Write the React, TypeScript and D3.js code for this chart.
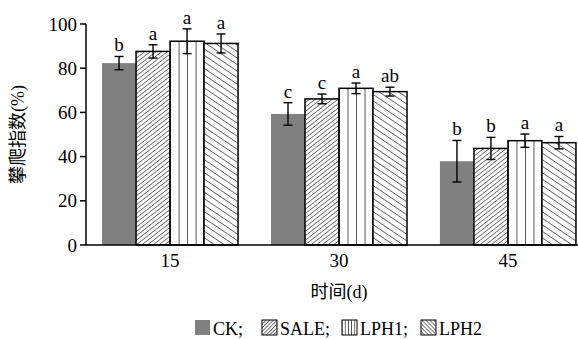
import React, { useEffect } from "react";
import { scaleBand, scaleLinear } from "d3";

// days
const days = ["15", "30", "45"];
const treatments = ["CK", "SALE", "LPH1", "LPH2"];
// climbing index (%) per day, per treatment
const means = [
  [82.3, 87.6, 92.2, 91.2],
  [59.3, 66.1, 70.9, 69.4],
  [37.9, 43.7, 47.2, 46.3],
];
const errors = [
  [3.0, 3.0, 5.6, 4.3],
  [5.1, 2.2, 2.4, 2.0],
  [9.4, 5.0, 3.0, 2.8],
];
const letters = [
  ["b", "a", "a", "a"],
  ["c", "c", "a", "ab"],
  ["b", "b", "a", "a"],
];
const yTicks = [0, 20, 40, 60, 80, 100];

const fills: Record<string, string> = {
  CK: "#808080",
  SALE: "url(#pSale)",
  LPH1: "url(#pLph1)",
  LPH2: "url(#pLph2)",
};
// legend swatches use a tighter version of the same hatching
const swatchFills: Record<string, string> = {
  CK: "#808080",
  SALE: "url(#sSale)",
  LPH1: "url(#sLph1)",
  LPH2: "url(#sLph2)",
};

const font = "'Liberation Serif', 'Times New Roman', 'Noto Sans CJK SC', serif";

function Hatch({ id, size, angle, sw, x = 0 }: { id: string; size: number; angle: number; sw: number; x?: number }) {
  return (
    <pattern id={id} patternUnits="userSpaceOnUse" x={x} width={size} height={size} patternTransform={`rotate(${angle})`}>
      <rect width={size} height={size} fill="#fff" />
      <line x1="0" y1="0" x2="0" y2={size} stroke="#000" strokeWidth={sw} />
    </pattern>
  );
}

export default function App() {
  useEffect(() => {
    document.body.style.margin = "0";
  }, []);

  const width = 578;
  const height = 339;
  const left = 86;
  const top = 24;
  const bottom = 245;

  const x = scaleBand().domain(days).range([left, 592]).paddingInner(0.195).paddingOuter(0.095);
  const xi = scaleBand().domain(treatments).range([0, x.bandwidth()]);
  const y = scaleLinear().domain([0, 100]).range([bottom, top]);

  const legendX = [195, 262, 342, 421];
  const legendLabels = ["CK;", "SALE;", "LPH1;", "LPH2"];

  return (
    <svg width={width} height={height} style={{ display: "block", background: "#fff" }} fontFamily={font}>
      <defs>
        <Hatch id="pSale" size={3.5} angle={52} sw={1} />
        <Hatch id="pLph1" size={8.5} angle={0} sw={1.3} x={x("15")! + xi("LPH1")!} />
        <Hatch id="pLph2" size={5.4} angle={-56} sw={1.1} />
        <Hatch id="sSale" size={2.6} angle={45} sw={1.1} />
        <Hatch id="sLph1" size={3.2} angle={0} sw={1.2} x={342} />
        <Hatch id="sLph2" size={2.8} angle={-45} sw={1.1} />
      </defs>

      {/* bars */}
      {days.map((d, gi) => (
        <g key={d} transform={`translate(${x(d)},0)`}>
          {treatments.map((t, ti) => {
            const v = means[gi][ti];
            const e = errors[gi][ti];
            const bx = xi(t)!;
            const bw = xi.bandwidth();
            const cx = bx + bw / 2;
            return (
              <g key={t}>
                <rect
                  x={bx}
                  y={y(v)}
                  width={bw}
                  height={bottom - y(v)}
                  fill={fills[t]}
                  stroke={t === "CK" ? "none" : "#000"}
                  strokeWidth={1.5}
                />
                <g stroke="#000" strokeWidth={1.4}>
                  <line x1={cx} x2={cx} y1={y(v + e)} y2={y(v - e)} />
                  <line x1={cx - 4.5} x2={cx + 4.5} y1={y(v + e)} y2={y(v + e)} />
                  <line x1={cx - 4.5} x2={cx + 4.5} y1={y(v - e)} y2={y(v - e)} />
                </g>
                <text x={cx} y={y(v + e) - 5} textAnchor="middle" fontSize={19}>
                  {letters[gi][ti]}
                </text>
              </g>
            );
          })}
        </g>
      ))}

      {/* y axis */}
      <line x1={left} x2={left} y1={top} y2={bottom} stroke="#000" strokeWidth={1.5} />
      {yTicks.map((t) => (
        <g key={t}>
          <line x1={left - 6} x2={left} y1={y(t)} y2={y(t)} stroke="#000" strokeWidth={1.5} />
          <text x={left - 9} y={y(t)} dy="0.35em" textAnchor="end" fontSize={19}>
            {t}
          </text>
        </g>
      ))}
      {/* x axis */}
      <line x1={left} x2={width} y1={bottom} y2={bottom} stroke="#000" strokeWidth={1.5} />
      {days.map((d) => (
        <text key={d} x={x(d)! + x.bandwidth() / 2} y={bottom + 22} textAnchor="middle" fontSize={19}>
          {d}
        </text>
      ))}

      {/* axis titles */}
      <text transform={`translate(24,${(top + bottom) / 2}) rotate(-90)`} textAnchor="middle" fontSize={18}>
        攀爬指数(%)
      </text>
      <text x={(left + 592) / 2} y={298} textAnchor="middle" fontSize={18}>
        时间(d)
      </text>

      {/* legend */}
      {treatments.map((t, i) => (
        <g key={t} transform={`translate(${legendX[i]},320)`}>
          <rect width={15} height={15} fill={swatchFills[t]} stroke={t === "CK" ? "none" : "#000"} strokeWidth={1} />
          <text x={18} y={14.5} fontSize={18}>
            {legendLabels[i]}
          </text>
        </g>
      ))}
    </svg>
  );
}
